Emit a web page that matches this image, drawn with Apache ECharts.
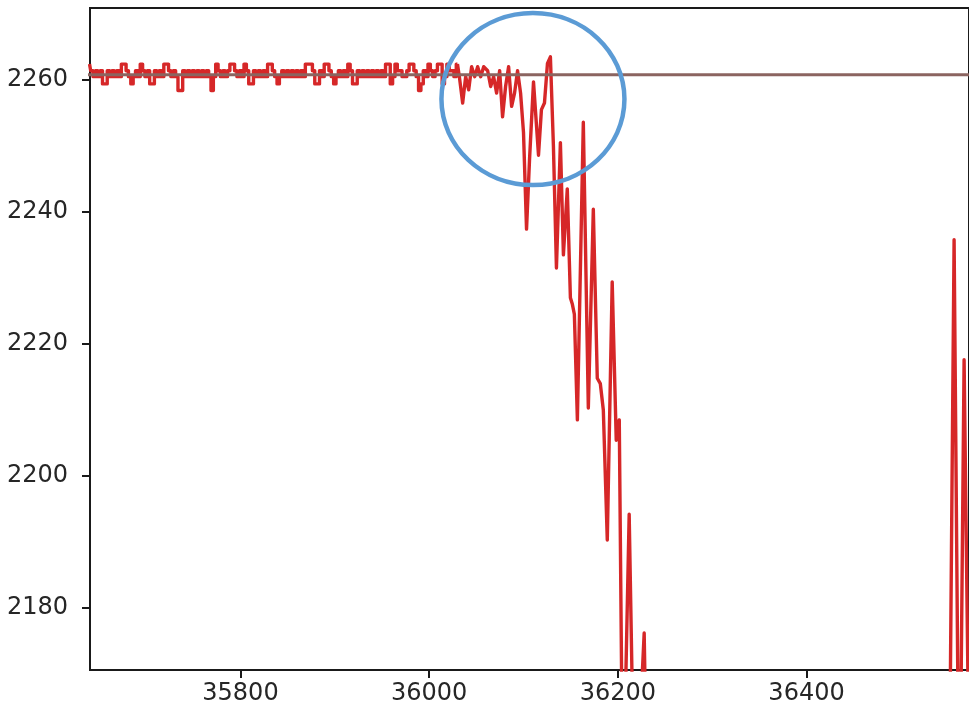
<!DOCTYPE html>
<html>
<head>
<meta charset="utf-8">
<script src="https://cdn.jsdelivr.net/npm/echarts@6/dist/echarts.min.js"></script>
<style>
html,body{margin:0;padding:0;background:#fff;}
#chart{width:969px;height:711px;}
</style>
</head>
<body>
<div id="chart"></div>
<script>
// ---- data ----
const xTicks = [35800, 36000, 36200, 36400];
const yTicks = [2180, 2200, 2220, 2240, 2260];

// flat noisy section, x = 35640 + 2.5*i
const flatStartX = 35640;
const flatStep = 2.5;
const flatY = [
  2262.4, 2261.4, 2260.5, 2261.4, 2260.5, 2261.4, 2259.4, 2259.4, 2261.4, 2260.5,
  2261.4, 2260.5, 2261.4, 2260.5, 2262.4, 2262.4, 2261.4, 2260.5, 2259.4, 2260.5,
  2261.4, 2260.5, 2262.4, 2261.4, 2260.5, 2261.4, 2259.4, 2259.4, 2261.4, 2260.5,
  2261.4, 2260.5, 2262.4, 2262.4, 2261.4, 2260.5, 2261.4, 2260.5, 2258.4, 2258.4,
  2261.4, 2260.5, 2261.4, 2260.5, 2261.4, 2260.5, 2261.4, 2260.5, 2261.4, 2260.5,
  2261.4, 2260.5, 2258.4, 2260.5, 2262.4, 2261.4, 2260.5, 2261.4, 2260.5, 2261.4,
  2262.4, 2262.4, 2261.4, 2260.5, 2261.4, 2260.5, 2262.4, 2261.4, 2259.4, 2259.4,
  2261.4, 2260.5, 2261.4, 2260.5, 2261.4, 2260.5, 2262.4, 2262.4, 2261.4, 2260.5,
  2259.4, 2260.5, 2261.4, 2260.5, 2261.4, 2260.5, 2261.4, 2260.5, 2261.4, 2260.5,
  2261.4, 2260.5, 2262.4, 2262.4, 2262.4, 2261.4, 2259.4, 2259.4, 2261.4, 2260.5,
  2262.4, 2262.4, 2261.4, 2260.5, 2259.4, 2260.5, 2261.4, 2260.5, 2261.4, 2260.5,
  2262.4, 2261.4, 2259.4, 2259.4, 2261.4, 2260.5, 2261.4, 2260.5, 2261.4, 2260.5,
  2261.4, 2260.5, 2261.4, 2260.5, 2261.4, 2260.5, 2262.4, 2262.4, 2259.4, 2260.5,
  2262.4, 2261.4, 2261.4, 2260.5, 2260.5, 2261.4, 2262.4, 2262.4, 2261.4, 2260.5,
  2258.4, 2259.4, 2261.4, 2260.5, 2262.4, 2261.4, 2260.5, 2261.4, 2262.4, 2262.4,
  2259.4, 2260.5, 2262.4, 2261.4, 2261.4, 2260.5, 2262.4
];

// breakdown section
const dropX = [
  36032, 36035.5, 36038.7, 36041.9, 36045, 36048.3, 36051.4, 36054.6, 36057.8, 36062,
  36065.2, 36068.3, 36071.5, 36074.7, 36077.8, 36081, 36084.2, 36087.4, 36090.5, 36093.7,
  36096.9, 36100, 36103.2, 36106.4, 36110.6, 36113.8, 36115.9, 36119, 36122.2, 36125.4,
  36128.5, 36131.7, 36134.9, 36139.1, 36142.3, 36146.4, 36149.7, 36151.8, 36153.9, 36157.1,
  36163.4, 36168.7, 36174, 36178.2, 36181.4, 36184.6, 36188.8, 36194, 36198.3, 36201.5,
  36204.6, 36207.8, 36212, 36216.2, 36222.6, 36227.9, 36231, 36300, 36400, 36500,
  36552.2, 36556.4, 36560.6, 36563.8, 36567, 36573.3
];
const dropY = [
  2260.5, 2256.5, 2260.5, 2258.5, 2262, 2260.5, 2262, 2260.5, 2262, 2261.4,
  2259, 2260.5, 2258, 2261.4, 2254.4, 2259, 2262, 2256, 2258, 2261.4,
  2258, 2252, 2237.4, 2248, 2259.7, 2253, 2248.6, 2255.5, 2256.5, 2262.5,
  2263.5, 2250, 2231.5, 2250.5, 2233.5, 2243.5, 2227, 2226, 2224.5, 2208.5,
  2253.6, 2210.3, 2240.4, 2214.8, 2214, 2210, 2190.3, 2229.4, 2205.4, 2208.5,
  2160, 2165, 2194.2, 2160, 2160, 2176.2, 2150, 2140, 2130, 2145,
  2165, 2235.8, 2165, 2168, 2217.6, 2143
];

const refLevel = 2260.8;
const circleCenter = [36110, 2257.1];

// ---- build ----
const flatData = flatY.map((v, i) => [flatStartX + flatStep * i, v]);
const dropData = [flatData[flatData.length - 1]].concat(dropX.map((x, i) => [x, dropY[i]]));

const xMin = 35640.5, xMax = 36572.2;
const yMin = 2170.6, yMax = 2270.9;

const chart = echarts.init(document.getElementById('chart'), null, {renderer: 'canvas'});
const labelStyle = {color: '#262626', fontFamily: 'DejaVu Sans', fontSize: 24};
const red = '#d62728';

chart.setOption({
  animation: false,
  backgroundColor: '#ffffff',
  grid: {left: 90, top: 8, right: -3, bottom: 41, show: true, borderColor: '#1a1a1a', borderWidth: 2, containLabel: false},
  xAxis: {
    type: 'value', min: xMin, max: xMax,
    splitLine: {show: false},
    axisLine: {show: false},
    axisTick: {show: true, length: 8, lineStyle: {color: '#1a1a1a', width: 2}, customValues: xTicks},
    axisLabel: Object.assign({margin: 12, customValues: xTicks, formatter: v => String(v)}, labelStyle)
  },
  yAxis: {
    type: 'value', min: yMin, max: yMax,
    splitLine: {show: false},
    axisLine: {show: false},
    axisTick: {show: true, length: 8, lineStyle: {color: '#1a1a1a', width: 2}, customValues: yTicks},
    axisLabel: Object.assign({margin: 22, customValues: yTicks, formatter: v => String(v)}, labelStyle)
  },
  series: [
    {
      type: 'line', data: flatData, step: 'middle', showSymbol: false, symbol: 'none', clip: true,
      lineStyle: {color: red, width: 3.4, join: 'round'}
    },
    {
      type: 'line', data: dropData, showSymbol: false, symbol: 'none', clip: true,
      lineStyle: {color: red, width: 3.4, join: 'round'}
    },
    {
      type: 'line', data: [[35600, refLevel], [36600, refLevel]], showSymbol: false, symbol: 'none', clip: true,
      lineStyle: {color: '#8b6460', width: 3}
    }
  ]
});

const c = chart.convertToPixel({gridIndex: 0}, circleCenter);
chart.setOption({
  graphic: [{
    type: 'ellipse',
    shape: {cx: c[0], cy: c[1], rx: 91.5, ry: 86},
    style: {fill: 'none', stroke: '#5b9bd5', lineWidth: 4.5},
    z: 100
  }]
});
</script>
</body>
</html>
